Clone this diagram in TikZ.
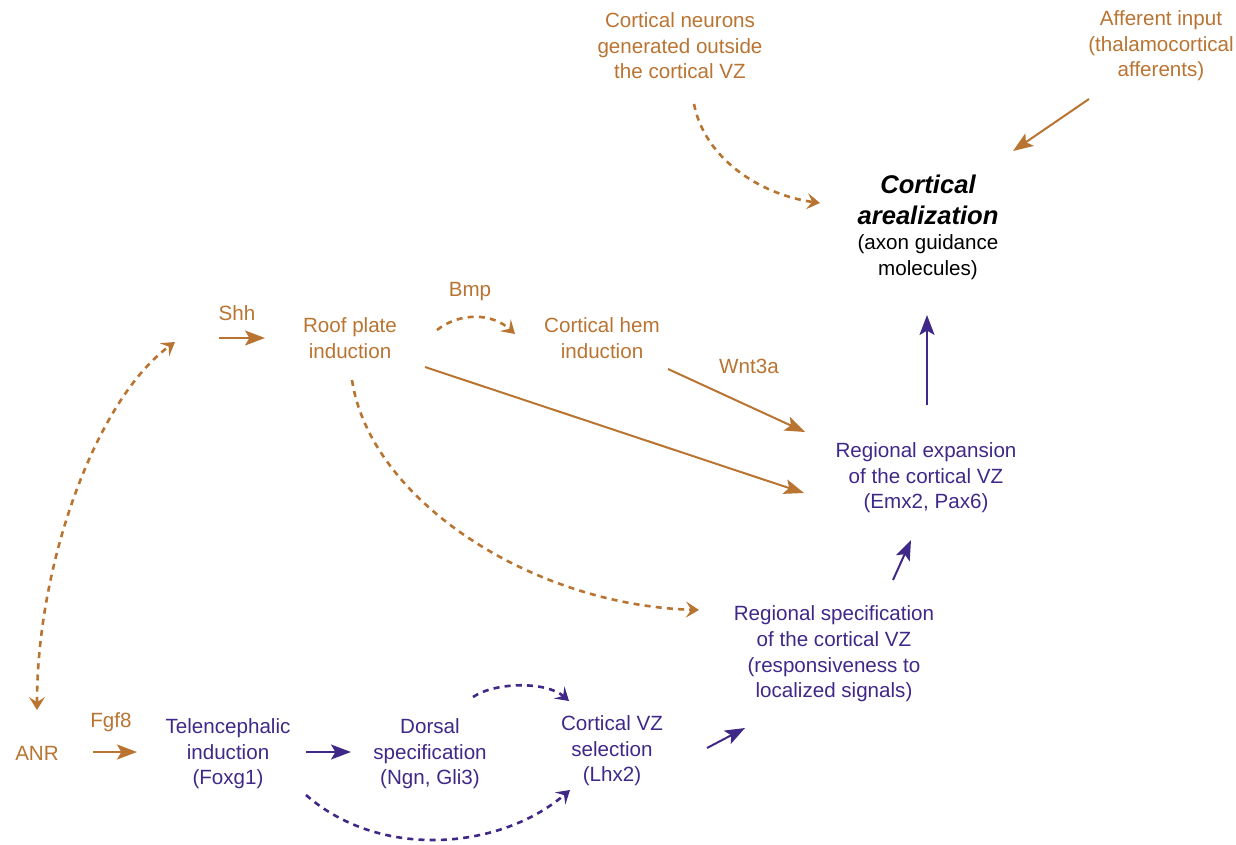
\documentclass[tikz,border=0pt]{standalone}
\usepackage{fontspec}
\setmainfont{Liberation Sans}
\usetikzlibrary{arrows.meta,calc}
\definecolor{ochre}{RGB}{185,116,50}
\definecolor{violet2}{RGB}{64,40,136}
\tikzset{
  lbl/.style={inner sep=0pt, align=center, font=\fontsize{10.3pt}{12.8pt}\selectfont},
  orl/.style={lbl, text=ochre},
  pul/.style={lbl, text=violet2},
  solidarr/.style={line width=1pt, -{Stealth[length=10pt,width=7.5pt,inset=2.2pt]}},
  dasharr/.style={line width=1.3pt, dash pattern=on 3pt off 2.6pt, -{Stealth[length=6.5pt,width=8pt,inset=2.6pt]}},
}
\begin{document}
\begin{tikzpicture}[x=0.5pt, y=-0.5pt]
\useasboundingbox (0,0) rectangle (1236,845);
% nodes
\node[orl] (cn) at (680,46) {Cortical neurons\\generated outside\\the cortical VZ};
\node[orl] (ai) at (1161,46) {Afferent input\\(thalamocortical\\afferents)};
\node[lbl, font=\fontsize{12.8pt}{15.5pt}\selectfont\bfseries\itshape] (cat) at (928,200) {Cortical\\arealization};
\node[lbl] (cas) at (928,257) {(axon guidance\\molecules)};
\node[orl] (shh) at (237,313) {Shh};
\node[orl] (roof) at (350,338) {Roof plate\\induction};
\node[orl] (bmp) at (470,292) {Bmp};
\node[orl] (hem) at (602,338) {Cortical hem\\induction};
\node[orl] (wnt) at (749,366) {Wnt3a};
\node[pul] (re) at (926,478) {Regional expansion\\of the cortical VZ\\(Emx2, Pax6)};
\node[pul] (rs) at (834,654) {Regional specification\\of the cortical VZ\\(responsiveness to\\localized signals)};
\node[orl] (anr) at (37,753) {ANR};
\node[orl] (fgf) at (111,722) {Fgf8};
\node[pul] (tel) at (228,754) {Telencephalic\\induction\\(Foxg1)};
\node[pul] (dor) at (430,754) {Dorsal\\specification\\(Ngn, Gli3)};
\node[pul] (cvz) at (612,751) {Cortical VZ\\selection\\(Lhx2)};
\coordinate (shhs) at (219,338);
% orange connectors
\draw[dasharr, ochre] ($(cn)+(14,58)$) .. controls +(11,56) and +(-58,-8) .. ($(cat)+(-108,3)$);
\draw[solidarr, ochre] ($(ai)+(-72,53)$) -- ($(cat)+(85,-49)$);
\draw[dasharr, ochre] ($(roof)+(87,-8)$) .. controls +(23,-18) and +(-23,-21) .. ($(hem)+(-87,-4)$);
\draw[solidarr, ochre] (shhs) -- ($(roof)+(-85,0)$);
\draw[dasharr, ochre, {Stealth[length=6.5pt,width=8pt,inset=2.6pt]}-{Stealth[length=6.5pt,width=8pt,inset=2.6pt]}] ($(anr)+(0,-43)$) .. controls +(0,-148) and +(-78,57) .. ($(shhs)+(-44,4)$);
\draw[solidarr, ochre] ($(roof)+(75,29)$) -- ($(re)+(-122,15)$);
\draw[solidarr, ochre] ($(hem)+(66,31)$) -- ($(re)+(-121,-46)$);
\draw[dasharr, ochre] ($(roof)+(2,42)$) .. controls +(18,120) and +(-167,-5) .. ($(rs)+(-135,-44)$);
\draw[solidarr, ochre] ($(anr)+(56,-1)$) -- ($(tel)+(-91,-2)$);
% purple connectors
\draw[solidarr, violet2] ($(re)+(1,-73)$) -- ($(cas)+(-1,58)$);
\draw[solidarr, violet2] ($(rs)+(59,-74)$) -- ($(re)+(-15,62)$);
\draw[solidarr, violet2] ($(cvz)+(95,-3)$) -- ($(rs)+(-89,74)$);
\draw[solidarr, violet2] ($(tel)+(78,-2)$) -- ($(dor)+(-79,-2)$);
\draw[dasharr, violet2] ($(dor)+(43,-57)$) .. controls +(22,-15) and +(-23,-20) .. ($(cvz)+(-43,-50)$);
\draw[dasharr, violet2] ($(tel)+(78,41)$) .. controls +(74,65) and +(-70,60) .. ($(cvz)+(-42,39)$);
\end{tikzpicture}
\end{document}
